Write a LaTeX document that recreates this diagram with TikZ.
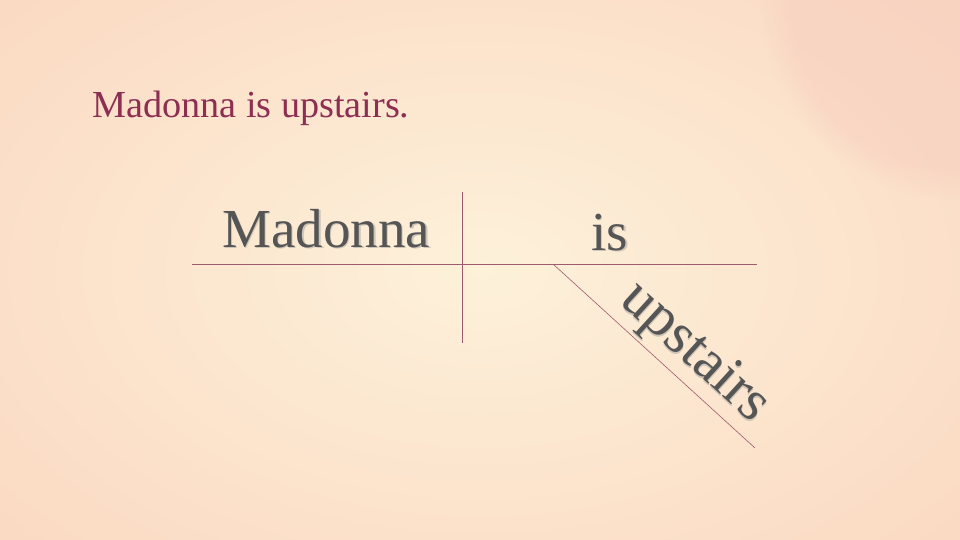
\documentclass[tikz,border=0pt]{standalone}
\usepackage{fontspec}
\usetikzlibrary{fadings}
\setmainfont{Liberation Serif}
\definecolor{bgmid}{HTML}{FDF1DA}
\definecolor{bgout}{HTML}{FBDAC3}
\definecolor{pinkc}{HTML}{F6CBBE}
\definecolor{linec}{HTML}{9E5A6E}
\definecolor{titlec}{HTML}{8C2F52}
\definecolor{wordc}{HTML}{555555}
\definecolor{shadowc}{HTML}{CFC5B7}
\newcommand\shtext[1]{\makebox[0pt][l]{\hspace{1.6pt}\raisebox{-1.6pt}{\textcolor{shadowc}{#1}}}#1}
\tikzset{
  diagline/.style={draw=linec, line width=0.9pt},
  word/.style={font=\fontsize{55}{60}\selectfont, text=wordc, inner sep=0pt, anchor=base west},
  title/.style={font=\fontsize{38.2}{42}\selectfont, text=titlec, inner sep=0pt, anchor=base west}
}
\begin{document}
\begin{tikzpicture}[x=1pt,y=-1pt]
\useasboundingbox (0,0) rectangle (960,540);
\shade[inner color=bgmid, outer color=bgout] (-150,-120) rectangle (1110,660);
\fill[pinkc, opacity=0.45, path fading=circle with fuzzy edge 15 percent] (960,0) circle (200);
% title
\node[title] (title) at (92,118) {Madonna is upstairs.};
% coordinates of the diagram
\coordinate (hl) at (192,264);
\coordinate (hr) at (757,264);
\coordinate (vt) at (462,192);
\coordinate (vb) at (462,343);
\coordinate (ds) at (553,264);
\coordinate (de) at (755,448);
\draw[diagline] (hl) -- (hr);
\draw[diagline] (vt) -- (vb);
\draw[diagline, line width=0.6pt] (ds) -- (de);
% subject
\node[word] (subj) at (222,247) {\shtext{Madonna}};
% verb
\node[word] (verb) at (591,250) {\shtext{is}};
% modifier along the diagonal
\begin{scope}[shift={(553,264)}, rotate=-42.33]
\node[word, font=\fontsize{58}{62}\selectfont, rotate=-42.33] (mod) at (74,-16) {\shtext{upstairs}};
\end{scope}
\end{tikzpicture}
\end{document}
